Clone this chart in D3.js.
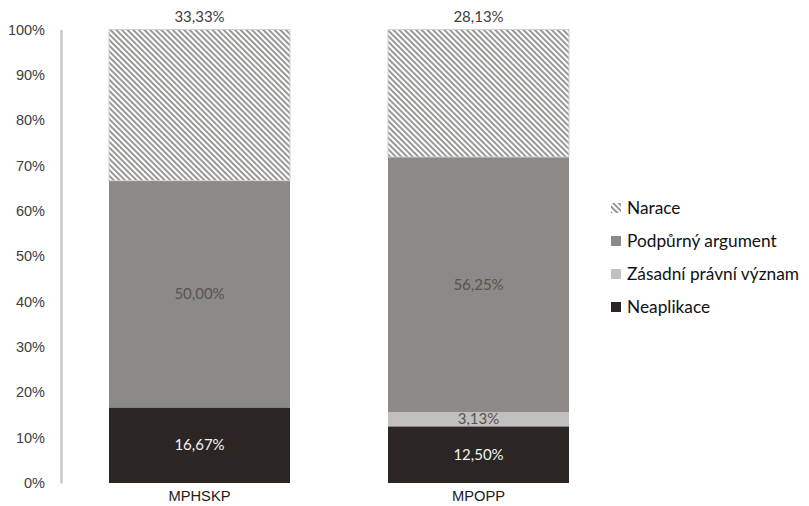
<!DOCTYPE html>
<html>
<head>
<meta charset="utf-8">
<script src="https://cdn.jsdelivr.net/npm/d3@7"></script>
<style>
  body { margin: 0; background: #fff; }
  svg { display: block; font-family: Lato, "Open Sans", sans-serif; }
</style>
</head>
<body>
<svg id="chart" width="809" height="506"></svg>
<script>
// Categories (bars) and stacked series, bottom to top
const categories = ["MPHSKP", "MPOPP"];
const seriesNames = ["Neaplikace", "Zásadní právní význam", "Podpůrný argument", "Narace"];
const neaplikace = [16.67, 12.50];
const zasadni = [0, 3.13];
const podpurny = [50.00, 56.25];
const narace = [33.33, 28.13];
const yTicks = [0, 10, 20, 30, 40, 50, 60, 70, 80, 90, 100];

const svg = d3.select("#chart");

const rows = categories.map((c, i) => ({
  cat: c,
  "Neaplikace": neaplikace[i],
  "Zásadní právní význam": zasadni[i],
  "Podpůrný argument": podpurny[i],
  "Narace": narace[i]
}));

const layers = d3.stack().keys(seriesNames)(rows);

const x = d3.scaleBand().domain(categories).range([53.2, 624.8])
  .paddingInner(0.3513).paddingOuter(0.2);
const y = d3.scaleLinear().domain([0, 100]).range([483, 29.5]);

// diagonal hatch for "Narace"
const defs = svg.append("defs");
const pat = defs.append("pattern")
  .attr("id", "hatch")
  .attr("patternUnits", "userSpaceOnUse")
  .attr("width", 4).attr("height", 4)
  .attr("patternTransform", "rotate(-45)");
pat.append("rect").attr("width", 4).attr("height", 4).attr("fill", "#fff");
pat.append("rect").attr("x", 0).attr("width", 2).attr("height", 4).attr("fill", "#9a9896");

const fills = {
  "Neaplikace": "#2b2623",
  "Zásadní právní význam": "#c2c0be",
  "Podpůrný argument": "#8c8986",
  "Narace": "url(#hatch)"
};

// y axis
const yAxis = d3.axisLeft(y).tickValues(yTicks).tickSize(0).tickPadding(16)
  .tickFormat(d => d + "%");
const gy = svg.append("g").attr("transform", "translate(61,0)").call(yAxis);
gy.select(".domain").attr("stroke", "#c8c8c8").attr("stroke-width", 2.5);
gy.selectAll("text").attr("font-size", 14.5).attr("fill", "#404040");

// stacked bars
layers.forEach(layer => {
  const key = layer.key;
  svg.append("g").selectAll("rect").data(layer).join("rect")
    .attr("x", d => x(d.data.cat))
    .attr("width", x.bandwidth())
    .attr("y", d => y(d[1]))
    .attr("height", d => y(d[0]) - y(d[1]))
    .attr("fill", fills[key])
    .attr("stroke", key === "Narace" ? "#d0d0d0" : "none")
    .attr("stroke-width", 1);
});

// value labels
layers.forEach(layer => {
  const key = layer.key;
  layer.forEach(d => {
    const v = d[1] - d[0];
    if (v <= 0) return;
    let ty, col;
    if (key === "Narace") { ty = y(100) - 8; col = "#404040"; }
    else { ty = (y(d[0]) + y(d[1])) / 2 + 5; col = key === "Neaplikace" ? "#f2f2f2" : "#555555"; }
    svg.append("text")
      .attr("x", x(d.data.cat) + x.bandwidth() / 2)
      .attr("y", ty)
      .attr("text-anchor", "middle")
      .attr("font-size", 15)
      .attr("fill", col)
      .text(v.toFixed(2).replace(".", ",") + "%");
  });
});

// category labels
const xAxis = d3.axisBottom(x).tickSize(0).tickPadding(8);
const gx = svg.append("g").attr("transform", "translate(0,483)").call(xAxis);
gx.select(".domain").remove();
gx.selectAll("text").attr("font-size", 14.7).attr("fill", "#202020");

// legend, listed top to bottom in reverse stack order
const legendItems = seriesNames.slice().reverse();
const lg = svg.append("g").attr("transform", "translate(611,208)");
legendItems.forEach((name, i) => {
  const g = lg.append("g").attr("transform", `translate(0,${i * 33})`);
  g.append("rect").attr("x", 0).attr("y", -5).attr("width", 10).attr("height", 10)
    .attr("fill", fills[name]);
  g.append("text").attr("x", 16).attr("y", 6).attr("font-size", 17.3).attr("fill", "#111")
    .text(name);
});
</script>
</body>
</html>
